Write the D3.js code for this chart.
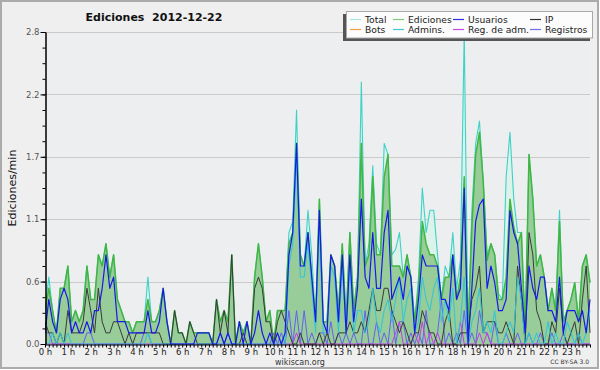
<!DOCTYPE html>
<html><head><meta charset="utf-8">
<script src="https://cdn.jsdelivr.net/npm/d3@7"></script>
<style>
body{margin:0;background:#fff}
svg{display:block}
text{font-family:"DejaVu Sans",Verdana,sans-serif}
</style>
</head><body>
<svg id="c" width="600" height="370"></svg>
<script>
// ---------- data (edits per minute, 10-minute buckets, 144 per day) ----------
const chartTitle = "Ediciones  2012-12-22";
const yAxisLabel = "Ediciones/min";
const hourLabels = d3.range(24).map(h => h + " h");
const yTickValues = [0, 0.56, 1.12, 1.68, 2.24, 2.8];
const yTickLabels = ["0.0", "0.6", "1.1", "1.7", "2.2", "2.8"];
const seriesNames = ["Total", "Ediciones", "Usuarios", "IP", "Bots", "Admins.", "Reg. de adm.", "Registros"];

const total = [
0.3,0.6,0.3,0.1,0.5,0.5, 0.7,0.2,0.3,0.2,0.3,0.7, 0.4,0.4,0.8,0.7,0.9,0.6, 0.8,0.4,0.3,0.2,0.2,0.1,
0.2,0.2,0.2,0.6,0.2,0.2, 0.3,0.5,0.2,0.0,0.3,0.1, 0.1,0.0,0.2,0.1,0.1,0.1, 0.1,0.1,0.0,0.4,0.2,0.3,
0.2,0.8,0.0,0.2,0.1,0.2, 0.0,0.6,0.9,0.6,0.2,0.3, 0.0,0.3,0.3,0.3,1.0,1.1, 2.1,0.8,0.7,1.2,0.8,0.2,
1.3,0.2,0.2,0.8,0.7,0.3, 0.9,0.2,1.0,0.3,0.6,2.35, 0.7,0.9,1.6,0.9,0.8,1.8, 1.7,0.8,0.85,1.0,0.6,0.8,
0.6,0.2,0.6,1.4,1.0,1.2, 1.2,0.8,0.4,0.7,0.6,1.0, 0.5,0.75,2.8,0.1,1.2,1.8, 2.0,1.45,0.8,0.9,0.8,0.45,
0.4,1.5,1.9,1.3,1.0,1.0, 0.1,1.7,1.3,0.7,0.8,0.6, 0.3,0.5,0.3,1.2,0.2,0.3, 0.4,0.55,0.2,0.7,0.8,0.55];

const ediciones = [
0.3,0.5,0.3,0.1,0.5,0.5, 0.7,0.2,0.3,0.2,0.3,0.7, 0.4,0.4,0.8,0.7,0.9,0.6, 0.8,0.4,0.3,0.2,0.2,0.1,
0.2,0.2,0.2,0.4,0.2,0.2, 0.3,0.5,0.2,0.0,0.3,0.1, 0.1,0.0,0.2,0.1,0.1,0.1, 0.1,0.1,0.0,0.4,0.2,0.3,
0.2,0.8,0.0,0.2,0.1,0.2, 0.0,0.6,0.9,0.6,0.2,0.3, 0.0,0.3,0.3,0.3,0.9,1.0, 1.8,0.8,0.7,1.0,0.6,0.2,
1.3,0.2,0.2,0.8,0.7,0.3, 0.9,0.2,1.0,0.3,0.6,1.8, 0.7,0.8,1.5,0.8,0.8,1.5, 1.7,0.7,0.7,0.7,0.6,0.8,
0.6,0.2,0.5,1.1,0.9,0.8, 0.8,0.7,0.4,0.6,0.6,0.8, 0.4,0.6,1.5,0.1,1.05,1.7, 1.9,1.45,0.75,0.9,0.8,0.4,
0.4,0.6,1.3,1.05,0.9,1.0, 0.1,1.7,1.3,0.7,0.8,0.6, 0.3,0.5,0.3,1.1,0.2,0.3, 0.4,0.55,0.2,0.7,0.8,0.55];

const usuarios = [
0.1,0.4,0.2,0.1,0.4,0.5, 0.4,0.1,0.2,0.1,0.1,0.2, 0.1,0.3,0.3,0.5,0.8,0.5, 0.6,0.2,0.2,0.2,0.1,0.1,
0.1,0.1,0.1,0.3,0.1,0.1, 0.2,0.5,0.2,0.0,0.0,0.0, 0.0,0.0,0.0,0.0,0.1,0.1, 0.1,0.1,0.0,0.0,0.1,0.0,
0.1,0.0,0.0,0.2,0.0,0.2, 0.0,0.1,0.3,0.1,0.0,0.1, 0.0,0.1,0.0,0.1,0.8,1.0, 1.8,0.7,0.7,1.0,0.6,0.2,
1.2,0.2,0.1,0.8,0.7,0.2, 0.8,0.1,0.8,0.2,0.5,1.3, 0.6,0.5,1.0,0.5,0.5,1.0, 1.2,0.4,0.5,0.6,0.4,0.7,
0.6,0.1,0.4,0.8,0.7,0.7, 0.7,0.7,0.4,0.4,0.3,0.8, 0.4,0.5,1.4,0.0,0.5,1.1, 1.25,1.3,0.5,0.7,0.55,0.3,
0.3,0.4,1.2,1.0,0.9,0.5, 0.1,0.7,0.5,0.4,0.6,0.6, 0.3,0.3,0.2,0.6,0.1,0.3, 0.3,0.3,0.2,0.3,0.1,0.4];

const ip = [
0.2,0.1,0.1,0.0,0.1,0.0, 0.3,0.1,0.1,0.1,0.2,0.5, 0.3,0.1,0.5,0.2,0.1,0.1, 0.2,0.2,0.1,0.0,0.1,0.0,
0.1,0.1,0.1,0.1,0.1,0.1, 0.1,0.0,0.0,0.0,0.3,0.1, 0.1,0.0,0.2,0.1,0.0,0.0, 0.0,0.0,0.0,0.4,0.1,0.3,
0.1,0.8,0.0,0.0,0.1,0.0, 0.0,0.5,0.6,0.5,0.2,0.2, 0.0,0.2,0.3,0.2,0.1,0.0, 0.0,0.1,0.0,0.0,0.0,0.0,
0.1,0.0,0.1,0.0,0.0,0.1, 0.1,0.1,0.2,0.1,0.1,0.2, 0.1,0.3,0.5,0.3,0.3,0.5, 0.5,0.3,0.2,0.1,0.2,0.1,
0.0,0.1,0.1,0.3,0.2,0.1, 0.1,0.0,0.0,0.2,0.3,0.0, 0.0,0.1,0.1,0.1,0.4,0.5, 0.7,0.1,0.2,0.2,0.2,0.1,
0.1,0.2,0.1,0.0,0.7,0.4, 0.0,1.0,0.8,0.3,0.2,0.0, 0.0,0.2,0.1,0.5,0.1,0.0, 0.1,0.2,0.0,0.4,0.7,0.1];

const bots = [];  // no bot edits this day

const admins = [
0.0,0.0,0.1,0.0,0.1,0.0, 0.1,0.0,0.0,0.0,0.0,0.0, 0.0,0.0,0.0,0.0,0.0,0.0, 0.0,0.0,0.0,0.0,0.0,0.0,
0.0,0.0,0.0,0.1,0.0,0.0, 0.0,0.0,0.0,0.0,0.0,0.0, 0.0,0.0,0.0,0.0,0.0,0.0, 0.0,0.0,0.0,0.0,0.0,0.0,
0.0,0.0,0.0,0.0,0.0,0.0, 0.0,0.0,0.0,0.0,0.0,0.0, 0.0,0.0,0.0,0.0,0.7,0.9, 1.7,0.6,0.6,0.9,0.5,0.1,
1.1,0.1,0.1,0.7,0.6,0.1, 0.7,0.1,0.7,0.1,0.3,0.3, 0.1,0.2,0.5,0.2,0.1,0.3, 0.4,0.2,0.4,0.6,0.2,0.4,
0.5,0.1,0.2,0.6,0.4,0.3, 0.5,0.6,0.2,0.4,0.2,0.5, 0.0,0.2,0.6,0.0,0.2,0.3, 0.5,0.1,0.2,0.1,0.3,0.0,
0.0,0.1,0.2,0.1,0.6,0.4, 0.0,0.1,0.0,0.1,0.0,0.0, 0.2,0.0,0.1,0.0,0.0,0.2, 0.1,0.0,0.1,0.0,0.1,0.3];

const regAdm = [
0,0,0,0,0,0, 0,0,0,0,0,0, 0,0,0,0,0,0, 0,0,0,0,0,0,
0,0,0,0,0,0, 0,0,0,0,0,0, 0,0,0,0,0,0, 0,0,0,0,0,0,
0,0,0,0,0,0, 0,0,0,0,0,0, 0,0,0,0,0,0, 0.1,0,0,0,0,0,
0,0,0,0,0,0, 0,0,0,0,0,0, 0,0,0,0,0,0, 0,0,0.1,0.2,0,0,
0,0.1,0,0.2,0,0.1, 0,0.1,0,0,0,0, 0,0.2,0,0,0,0, 0.1,0,0.1,0,0,0,
0,0,0,0,0,0, 0,0,0,0,0,0, 0,0,0,0,0,0, 0,0,0,0,0,0];

const registros = [
0.1,0.1,0,0,0,0, 0,0,0,0,0,0.1, 0.1,0,0,0,0,0, 0,0,0,0,0,0,
0,0,0.1,0.1,0,0, 0,0,0,0,0,0, 0,0,0,0,0,0, 0,0,0,0,0.1,0,
0.1,0,0,0,0,0, 0,0,0,0,0,0, 0.1,0,0.1,0,0.3,0, 0.3,0,0.3,0,0.1,0,
0.1,0.1,0,0.2,0,0.1, 0,0.1,0,0.1,0,0, 0.3,0,0,0.2,0,0.1, 0,0.3,0,0.2,0.2,0,
0.1,0,0.1,0,0.3,0, 0,0.1,0.4,0,0.1,0, 0.1,0,0.3,0,0.1,0, 0.3,0.1,0.1,0,0.2,0,
0,0.1,0,0,0.1,0, 0,0.1,0,0,0.1,0, 0,0.1,0,0,0.1,0, 0,0,0.1,0,0,0];

// ---------- drawing ----------
const svg = d3.select("#c");
const x = d3.scaleLinear().domain([0, 143]).range([45, 590]);
const y = d3.scaleLinear().domain([0, 2.8]).range([344, 32]);

svg.append("rect").attr("x", 1).attr("y", 1).attr("width", 597).attr("height", 367)
  .attr("fill", "#efefef").attr("stroke", "#ababab").attr("stroke-width", 2);
svg.append("rect").attr("x", 45).attr("y", 32).attr("width", 545).attr("height", 312)
  .attr("fill", "#edeef0");

// grid
svg.append("g").selectAll("line").data(yTickValues.filter(v => v > 0)).join("line")
  .attr("x1", 45).attr("x2", 590)
  .attr("y1", d => Math.round(y(d)) + 0.5).attr("y2", d => Math.round(y(d)) + 0.5)
  .attr("stroke", "#cacaca").attr("stroke-width", 1);

svg.append("clipPath").attr("id", "plot").append("rect")
  .attr("x", 45).attr("y", 20).attr("width", 548).attr("height", 325);
const g = svg.append("g").attr("clip-path", "url(#plot)");

const area = d3.area().x((d, i) => x(i)).y0(y(0)).y1(d => y(d));
const line = d3.line().x((d, i) => x(i)).y(d => y(d));

g.append("path").datum(total).attr("d", area).attr("fill", "#dcf2ea");
g.append("path").datum(ediciones).attr("d", area).attr("fill", "#98cc98");

const lines = [
  {data: total, color: "#3ed2c6", w: 1.1},
  {data: ediciones, color: "#42b642", w: 1.5},
  {data: registros, color: "#6262f2", w: 1},
  {data: regAdm, color: "#c83ce8", w: 1},
  {data: ip, color: "#3a3a3a", w: 1},
  {data: admins, color: "#2cc6dc", w: 1},
  {data: usuarios, color: "#1818e8", w: 1.2},
  {data: bots, color: "#f0a040", w: 1}
];
lines.filter(s => s.data.length).forEach(s => {
  g.append("path").datum(s.data).attr("d", line).attr("fill", "none")
    .attr("stroke", s.color).attr("stroke-width", s.w).attr("stroke-linejoin", "round");
});

// axes
const yMinor = d3.axisLeft(y).tickValues(d3.range(0, 21).map(k => k * 0.14))
  .tickSize(3).tickSizeOuter(0).tickFormat("");
const yMajor = d3.axisLeft(y).tickValues(yTickValues)
  .tickFormat((d, i) => yTickLabels[i]).tickSize(5).tickSizeOuter(0).tickPadding(1);
svg.append("g").attr("transform", "translate(45.5,0)").call(yMinor);
const ya = svg.append("g").attr("transform", "translate(45.5,0)").call(yMajor);
ya.selectAll("text").attr("font-family", "DejaVu Sans").attr("font-size", 8.5).attr("fill", "#555");

const xa = svg.append("g").attr("transform", "translate(0,344.5)")
  .call(d3.axisBottom(x).tickValues(d3.range(0, 144)).tickSize(3).tickSizeOuter(0).tickPadding(1)
    .tickFormat(d => d % 6 === 0 ? hourLabels[d / 6] : ""));
xa.selectAll("text").attr("font-family", "DejaVu Sans").attr("font-size", 8.5).attr("fill", "#222");
svg.selectAll(".domain, .tick line").attr("stroke", "#000");

// titles
svg.append("text").attr("x", 154).attr("y", 21).attr("text-anchor", "middle")
  .style("white-space", "pre").attr("xml:space", "preserve")
  .attr("font-size", 11).attr("font-weight", "bold").attr("fill", "#111").text(chartTitle);
svg.append("text").attr("transform", "translate(16,188) rotate(-90)").attr("text-anchor", "middle")
  .attr("font-size", 11).attr("fill", "#111").text(yAxisLabel);
svg.append("text").attr("x", 300).attr("y", 365).attr("text-anchor", "middle")
  .attr("font-size", 8).attr("fill", "#333").text("wikiscan.org");
svg.append("text").attr("x", 589).attr("y", 364).attr("text-anchor", "end")
  .attr("font-size", 6).attr("fill", "#333").text("CC BY-SA 3.0");

// legend
const legendColors = ["#a6e6dc", "#7fcc7f", "#3030e0", "#333333", "#f0a040", "#40c8dc", "#c848e8", "#7070f0"];
const lg = svg.append("g");
lg.append("rect").attr("x", 343).attr("y", 14).attr("width", 247).attr("height", 27).attr("fill", "#555");
lg.append("rect").attr("x", 346.5).attr("y", 11.5).attr("width", 246).attr("height", 26.5)
  .attr("fill", "#fcfcfc").attr("stroke", "#a8a8a8");
const colX = [350, 393, 453, 530];
seriesNames.forEach((name, k) => {
  const c = k % 4, r = Math.floor(k / 4);
  const sx = colX[c], sy = 19.5 + r * 10;
  lg.append("line").attr("x1", sx).attr("x2", sx + 11).attr("y1", sy).attr("y2", sy)
    .attr("stroke", legendColors[k]).attr("stroke-width", 1.2);
  lg.append("text").attr("x", sx + 15).attr("y", sy + 3.3).attr("font-size", 9.2)
    .attr("fill", "#222").text(name);
});
</script>
</body></html>
